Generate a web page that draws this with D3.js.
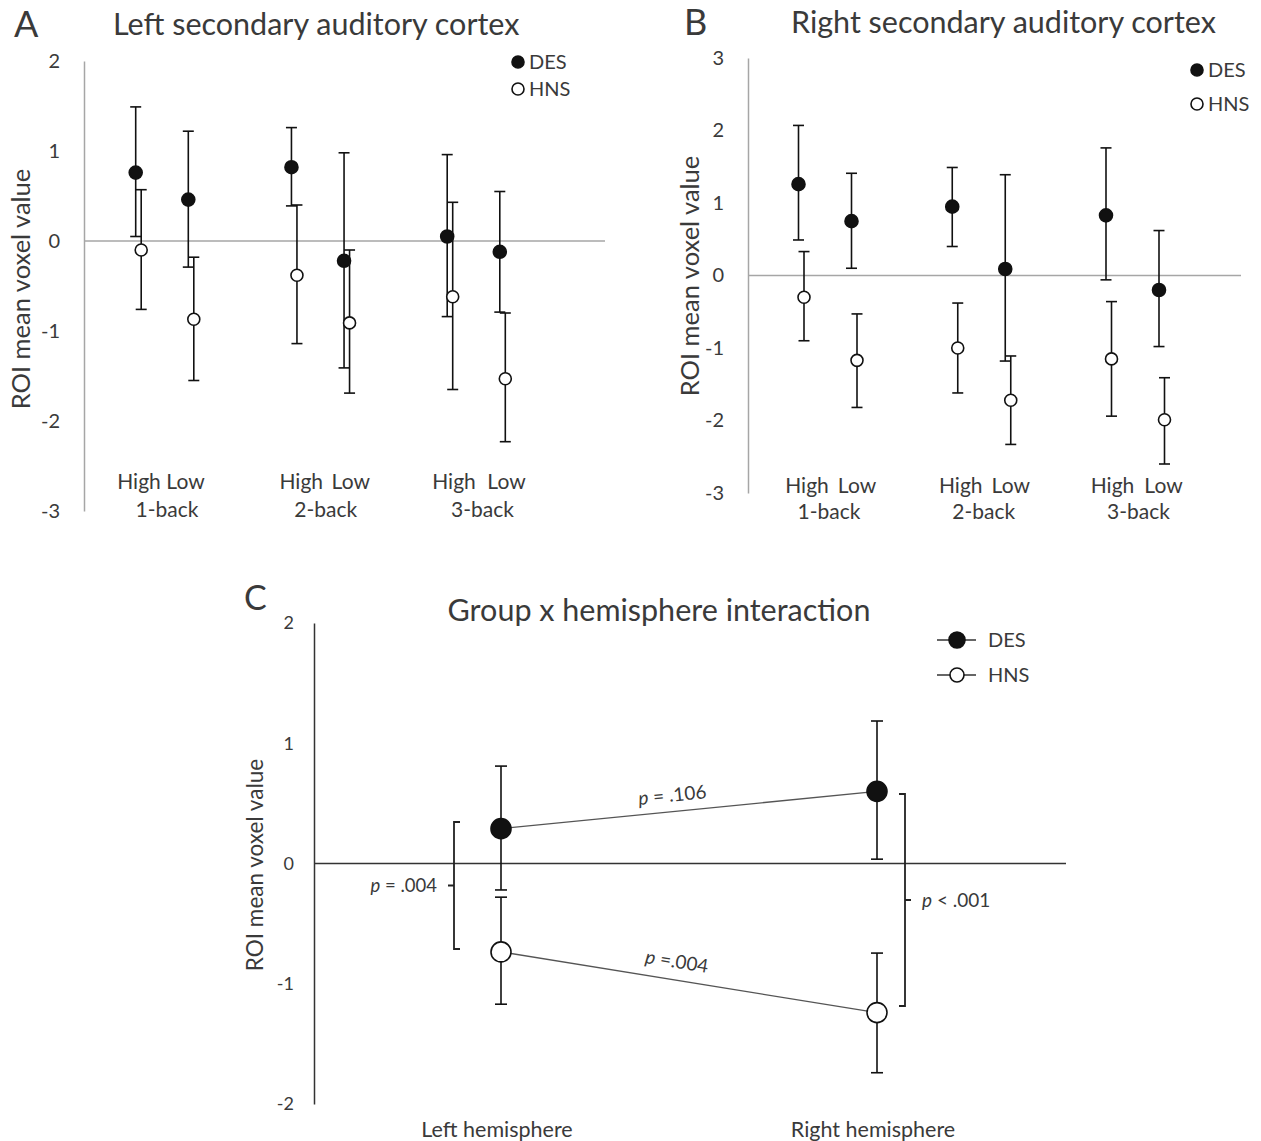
<!DOCTYPE html>
<html>
<head>
<meta charset="utf-8">
<script src="https://cdn.jsdelivr.net/npm/d3@7"></script>
<style>
  body { margin: 0; background: #fff; }
  text { font-family: Lato, "Open Sans", sans-serif; fill: #3a3a3a; }
</style>
</head>
<body>
<svg id="fig" width="1261" height="1141"></svg>
<script>
// ---- data ----
var backLevels = ["1-back", "2-back", "3-back"];
var loadLevels = ["High", "Low"];

// order: 1-back High, 1-back Low, 2-back High, 2-back Low, 3-back High, 3-back Low
var leftDesMean = [0.76, 0.46, 0.82, -0.22, 0.05, -0.12];
var leftDesUp   = [1.49, 1.22, 1.26, 0.98, 0.96, 0.55];
var leftDesDown = [0.05, -0.29, 0.39, -1.41, -0.84, -0.79];
var leftHnsMean = [-0.10, -0.87, -0.38, -0.91, -0.62, -1.53];
var leftHnsUp   = [0.57, -0.18, 0.40, -0.10, 0.43, -0.80];
var leftHnsDown = [-0.76, -1.55, -1.14, -1.69, -1.65, -2.23];

var rightDesMean = [1.26, 0.75, 0.95, 0.09, 0.83, -0.20];
var rightDesUp   = [2.07, 1.41, 1.49, 1.39, 1.76, 0.62];
var rightDesDown = [0.49, 0.10, 0.40, -1.18, -0.06, -0.98];
var rightHnsMean = [-0.30, -1.17, -1.00, -1.72, -1.15, -1.99];
var rightHnsUp   = [0.33, -0.53, -0.38, -1.11, -0.36, -1.41];
var rightHnsDown = [-0.90, -1.82, -1.62, -2.33, -1.94, -2.60];

var hemispheres = ["Left hemisphere", "Right hemisphere"];
var hemiDesMean = [0.29, 0.60];
var hemiDesUp   = [0.81, 1.185];
var hemiDesDown = [-0.22, 0.036];
var hemiHnsMean = [-0.735, -1.24];
var hemiHnsUp   = [-0.28, -0.745];
var hemiHnsDown = [-1.17, -1.74];

var groups = ["DES", "HNS"];
var ticksA = [2, 1, 0, -1, -2, -3];
var ticksB = [3, 2, 1, 0, -1, -2, -3];
var ticksC = [2, 1, 0, -1, -2];

var svg = d3.select("#fig");
var plainNum = function (d) { return String(d); };

//builds rows {back, load, mean, up, down} from the flat arrays
function rows(mean, up, down) {
    var out = [];
    backLevels.forEach(function (b, i) {
        loadLevels.forEach(function (l, j) {
            var k = i * 2 + j;
            out.push({back: b, load: l, mean: mean[k], up: up[k], down: down[k]});
        });
    });
    return out;
}

function errorBars(g, data, xf, y, cap, r, filled) {
    var e = g.append("g").selectAll("g").data(data).enter().append("g");
    e.append("line")
        .attr("x1", xf).attr("x2", xf)
        .attr("y1", function (d) { return y(d.up); })
        .attr("y2", function (d) { return y(d.down); })
        .attr("stroke", "#111").attr("stroke-width", 1.6);
    ["up", "down"].forEach(function (k) {
        e.append("line")
            .attr("x1", function (d) { return xf(d) - cap; })
            .attr("x2", function (d) { return xf(d) + cap; })
            .attr("y1", function (d) { return y(d[k]); })
            .attr("y2", function (d) { return y(d[k]); })
            .attr("stroke", "#111").attr("stroke-width", 1.6);
    });
    e.append("circle")
        .attr("cx", xf)
        .attr("cy", function (d) { return y(d.mean); })
        .attr("r", r)
        .attr("fill", filled ? "#111" : "#fff")
        .attr("stroke", "#111").attr("stroke-width", 1.6);
}

//panels A and B
function sidePanel(o) {
    var g = svg.append("g");
    var y = d3.scaleLinear().domain(o.yDomain).range(o.yRange);
    var gx = d3.scalePoint().domain(backLevels).range(o.groupRange);
    var lx = d3.scalePoint().domain(loadLevels).range([-o.half, o.half]);

    var axis = g.append("g")
        .attr("transform", "translate(" + o.axisX + ",0)")
        .call(d3.axisLeft(y).tickValues(o.ticks).tickFormat(plainNum)
            .tickSize(0).tickSizeOuter(0).tickPadding(24));
    axis.select(".domain").attr("stroke", "#a6a6a6").attr("stroke-width", 1.5);
    axis.selectAll("text").attr("font-size", 20).style("font-family", "Lato, sans-serif").attr("fill", "#3a3a3a");

    g.append("line")
        .attr("x1", o.axisX).attr("x2", o.zeroEnd)
        .attr("y1", y(0)).attr("y2", y(0))
        .attr("stroke", "#a6a6a6").attr("stroke-width", 1.5);

    var des = rows(o.des[0], o.des[1], o.des[2]);
    var hns = rows(o.hns[0], o.hns[1], o.hns[2]);
    var xDes = function (d) { return gx(d.back) + lx(d.load); };
    var xHns = function (d) { return gx(d.back) + lx(d.load) + o.shift; };

    errorBars(g, des, xDes, y, 5.5, 6.5, true);
    errorBars(g, hns, xHns, y, 5.5, 6, false);

    // category labels
    backLevels.forEach(function (b, i) {
        g.append("text").attr("x", gx(b) + o.highDx[i]).attr("y", o.loadY).attr("dy", "0.35em")
            .attr("text-anchor", "middle").attr("font-size", 21).text("High");
        g.append("text").attr("x", gx(b) + o.lowDx[i]).attr("y", o.loadY).attr("dy", "0.35em")
            .attr("text-anchor", "middle").attr("font-size", 21).text("Low");
        g.append("text").attr("x", gx(b) + o.backDx[i]).attr("y", o.backY).attr("dy", "0.35em")
            .attr("text-anchor", "middle").attr("font-size", 21).text(b);
    });

    // legend
    groups.forEach(function (s, i) {
        var ly = o.legY + i * o.legGap;
        g.append("circle").attr("cx", o.legX).attr("cy", ly).attr("r", 6)
            .attr("fill", i ? "#fff" : "#111").attr("stroke", "#111").attr("stroke-width", 1.6);
        g.append("text").attr("x", o.legX + 11).attr("y", ly).attr("dy", "0.35em")
            .attr("font-size", 20).text(s);
    });

    g.append("text").attr("x", o.titleX).attr("y", o.titleY).attr("dy", "0.35em")
        .attr("font-size", 30.5).text(o.title);
    g.append("text").attr("x", o.letterX).attr("y", o.titleY).attr("dy", "0.35em")
        .attr("font-size", 36).text(o.letter);
    g.append("text")
        .attr("transform", "translate(" + o.ylabX + "," + o.ylabY + ") rotate(-90)")
        .attr("text-anchor", "middle").attr("dy", "0.35em")
        .attr("font-size", 25.5).text("ROI mean voxel value");
}

sidePanel({
    letter: "A", letterX: 14, title: "Left secondary auditory cortex", titleX: 113, titleY: 24,
    yDomain: [-3, 2], yRange: [511, 61], ticks: ticksA, axisX: 84, zeroEnd: 605,
    groupRange: [162, 473.5], half: 26.3, shift: 5.5,
    des: [leftDesMean, leftDesUp, leftDesDown], hns: [leftHnsMean, leftHnsUp, leftHnsDown],
    highDx: [-23, -16.5, -19.5], lowDx: [23.5, 33, 33], backDx: [5, 8, 9], loadY: 482, backY: 510,
    legX: 518, legY: 62, legGap: 27, ylabX: 21, ylabY: 289
});

sidePanel({
    letter: "B", letterX: 684, title: "Right secondary auditory cortex", titleX: 791, titleY: 22,
    yDomain: [-3, 3], yRange: [493, 58], ticks: ticksB, axisX: 748, zeroEnd: 1241,
    groupRange: [825, 1132.5], half: 26.5, shift: 5.5,
    des: [rightDesMean, rightDesUp, rightDesDown], hns: [rightHnsMean, rightHnsUp, rightHnsDown],
    highDx: [-18, -18, -20], lowDx: [32, 32, 31], backDx: [4, 5, 6], loadY: 486, backY: 512,
    legX: 1197, legY: 70, legGap: 34, ylabX: 690, ylabY: 276
});

// ---- panel C ----
(function () {
    var g = svg.append("g");
    var y = d3.scaleLinear().domain([-2, 2]).range([1104, 623]);
    var x = d3.scalePoint().domain(hemispheres).range([501, 877]);

    var axis = g.append("g")
        .attr("transform", "translate(314,0)")
        .call(d3.axisLeft(y).tickValues(ticksC).tickFormat(plainNum)
            .tickSize(0).tickSizeOuter(0).tickPadding(20));
    axis.select(".domain").attr("stroke", "#333").attr("stroke-width", 1.5);
    axis.selectAll("text").attr("font-size", 18).style("font-family", "Lato, sans-serif").attr("fill", "#3a3a3a");

    g.append("line").attr("x1", 314).attr("x2", 1066).attr("y1", y(0)).attr("y2", y(0))
        .attr("stroke", "#333").attr("stroke-width", 1.5);

    var des = hemispheres.map(function (h, i) {
        return {h: h, mean: hemiDesMean[i], up: hemiDesUp[i], down: hemiDesDown[i]};
    });
    var hns = hemispheres.map(function (h, i) {
        return {h: h, mean: hemiHnsMean[i], up: hemiHnsUp[i], down: hemiHnsDown[i]};
    });
    var xf = function (d) { return x(d.h); };

    var line = d3.line().x(xf).y(function (d) { return y(d.mean); });
    [des, hns].forEach(function (s) {
        g.append("path").attr("d", line(s)).attr("fill", "none")
            .attr("stroke", "#555").attr("stroke-width", 1.3);
    });

    errorBars(g, des, xf, y, 6, 10, true);
    errorBars(g, hns, xf, y, 6, 10, false);

    // p-value labels along the lines
    function slopeLabel(s, txt, above) {
        var x0 = xf(s[0]), y0 = y(s[0].mean), x1 = xf(s[1]), y1 = y(s[1].mean);
        var ang = Math.atan2(y1 - y0, x1 - x0) * 180 / Math.PI;
        var t = 0.46;
        var cx = x0 + (x1 - x0) * t, cy = y0 + (y1 - y0) * t;
        var lab = g.append("text")
            .attr("transform", "translate(" + cx + "," + cy + ") rotate(" + ang + ") translate(0," + (-above) + ")")
            .attr("text-anchor", "middle").attr("font-size", 19);
        lab.append("tspan").attr("font-style", "italic").text("p");
        lab.append("tspan").text(txt);
    }
    slopeLabel(des, " = .106", 10);
    slopeLabel(hns, " =.004", 12);

    // brackets between groups
    function bracket(bx, y0, y1, dir, midDir) {
        var my = (y0 + y1) / 2;
        g.append("path")
            .attr("d", "M" + (bx + 6 * dir) + "," + y0 + "H" + bx + "V" + y1 + "H" + (bx + 6 * dir)
                + "M" + bx + "," + my + "H" + (bx + 6 * midDir))
            .attr("fill", "none").attr("stroke", "#222").attr("stroke-width", 1.8);
        return my;
    }
    var m1 = bracket(454, 822, 949, 1, -1);
    var lp = g.append("text").attr("x", 437).attr("y", m1).attr("dy", "0.35em")
        .attr("text-anchor", "end").attr("font-size", 18.5);
    lp.append("tspan").attr("font-style", "italic").text("p");
    lp.append("tspan").text(" = .004");

    var m2 = bracket(905, 794, 1006, -1, 1);
    var rp = g.append("text").attr("x", 922).attr("y", m2).attr("dy", "0.35em")
        .attr("font-size", 19);
    rp.append("tspan").attr("font-style", "italic").text("p");
    rp.append("tspan").text(" < .001");

    // legend
    groups.forEach(function (s, i) {
        var ly = 640 + i * 35;
        g.append("line").attr("x1", 937).attr("x2", 976).attr("y1", ly).attr("y2", ly)
            .attr("stroke", "#333").attr("stroke-width", 1.5);
        g.append("circle").attr("cx", 957).attr("cy", ly).attr("r", i ? 7 : 8)
            .attr("fill", i ? "#fff" : "#111").attr("stroke", "#111").attr("stroke-width", 1.6);
        g.append("text").attr("x", 988).attr("y", ly).attr("dy", "0.35em")
            .attr("font-size", 20).text(s);
    });

    hemispheres.forEach(function (h) {
        g.append("text").attr("x", x(h) - 4).attr("y", 1129).attr("dy", "0.35em")
            .attr("text-anchor", "middle").attr("font-size", 21.5).text(h);
    });

    g.append("text").attr("x", 659).attr("y", 610).attr("dy", "0.35em")
        .attr("text-anchor", "middle").attr("font-size", 30.5).text("Group x hemisphere interaction");
    g.append("text").attr("x", 244).attr("y", 598).attr("dy", "0.35em")
        .attr("font-size", 34).text("C");
    g.append("text")
        .attr("transform", "translate(255,865) rotate(-90)")
        .attr("text-anchor", "middle").attr("dy", "0.35em")
        .attr("font-size", 22.5).text("ROI mean voxel value");
})();
</script>
</body>
</html>
